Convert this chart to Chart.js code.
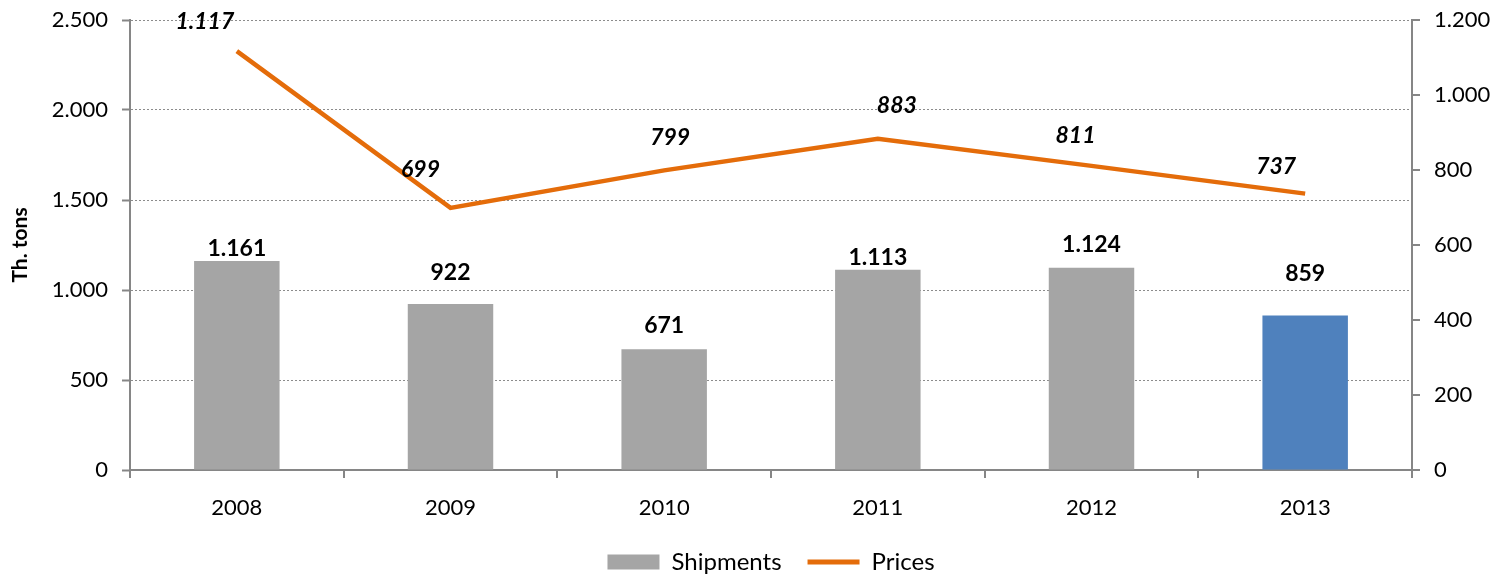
<!DOCTYPE html>
<html lang="en">
<head>
<meta charset="UTF-8">
<title>Shipments and prices</title>
<style>
    html, body { margin: 0; padding: 0; background: #fff; }
    #wrap { width: 1507px; height: 574px; position: relative; }
</style>
</head>
<body>
<div id="wrap"><canvas id="chart"></canvas></div>
<script src="https://cdn.jsdelivr.net/npm/chart.js"></script>
<script>
const years = ['2008', '2009', '2010', '2011', '2012', '2013'];
const shipments = [1161, 922, 671, 1113, 1124, 859];
const prices = [1117, 699, 799, 883, 811, 737];
const barColors = ['#a5a5a5', '#a5a5a5', '#a5a5a5', '#a5a5a5', '#a5a5a5', '#4f81bd'];
const leftTicks = [0, 500, 1000, 1500, 2000, 2500];
const rightTicks = [0, 200, 400, 600, 800, 1000, 1200];
// the labels were nudged by hand in the original, keep the same offsets
const barLabelLift = [12, 31, 24, 12, 23, 42];
const priceLabelShift = [[-32, -30], [-30, -38], [6, -33], [19, -33], [-16, -30], [-29, -27]];

const FONT = 'Lato, "Liberation Sans", sans-serif';

function fmt(v) {
    return String(v).replace(/\B(?=(\d{3})+(?!\d))/g, '.');
}

const valueLabels = {
    id: 'valueLabels',
    afterDatasetsDraw(chart) {
        const ctx = chart.ctx;
        ctx.save();
        ctx.fillStyle = '#000';
        ctx.textAlign = 'center';
        ctx.textBaseline = 'middle';
        ctx.font = 'bold 23px ' + FONT;
        chart.getDatasetMeta(0).data.forEach((bar, i) => {
            ctx.fillText(fmt(shipments[i]), bar.x, bar.y - barLabelLift[i]);
        });
        ctx.font = 'italic bold 23px ' + FONT;
        chart.getDatasetMeta(1).data.forEach((pt, i) => {
            const s = priceLabelShift[i];
            ctx.fillText(fmt(prices[i]), pt.x + s[0], pt.y + s[1]);
        });
        ctx.restore();
    }
};

new Chart(document.getElementById('chart'), {
    data: {
        labels: years,
        datasets: [{
            type: 'bar',
            label: 'Shipments',
            data: shipments,
            backgroundColor: barColors,
            yAxisID: 'y',
            categoryPercentage: 1,
            barPercentage: 0.4,
            order: 2
        }, {
            type: 'line',
            label: 'Prices',
            data: prices,
            borderColor: '#e46c0a',
            backgroundColor: '#e46c0a',
            borderWidth: 4.5,
            pointRadius: 0,
            tension: 0,
            yAxisID: 'y1',
            order: 1
        }]
    },
    options: {
        responsive: true,
        maintainAspectRatio: false,
        animation: false,
        layout: { padding: { top: 20, right: 0, left: 0, bottom: -10 } },
        plugins: {
            tooltip: { enabled: false },
            legend: {
                position: 'bottom',
                fullSize: false,
                labels: {
                    font: { family: FONT, size: 24, lineHeight: 1 },
                    color: '#000',
                    usePointStyle: true,
                    pointStyleWidth: 52,
                    boxHeight: 15,
                    padding: 26,
                    generateLabels(chart) {
                        return [{
                            text: 'Shipments', fillStyle: '#a5a5a5', strokeStyle: '#a5a5a5',
                            lineWidth: 0, pointStyle: 'rect', datasetIndex: 0
                        }, {
                            text: 'Prices', fillStyle: '#e46c0a', strokeStyle: '#e46c0a',
                            lineWidth: 5, pointStyle: 'line', datasetIndex: 1
                        }];
                    }
                }
            }
        },
        scales: {
            x: {
                offset: true,
                grid: {
                    offset: true,
                    drawOnChartArea: false,
                    drawTicks: true,
                    tickLength: 8,
                    color: '#868686',
                    lineWidth: 2
                },
                border: { color: '#868686', width: 2 },
                ticks: { color: '#000', font: { family: FONT, size: 22 }, padding: 17 },
                afterFit(scale) { scale.height = 54; }
            },
            y: {
                position: 'left',
                min: 0,
                max: 2500,
                afterBuildTicks(scale) { scale.ticks = leftTicks.map(v => ({ value: v })); },
                ticks: {
                    color: '#000',
                    font: { family: FONT, size: 22 },
                    padding: 14,
                    callback: v => fmt(v)
                },
                grid: {
                    color: '#8c8c8c',
                    lineWidth: 1,
                    tickColor: '#868686',
                    tickLength: 8,
                    tickWidth: 2,
                    tickBorderDash: [],
                    drawTicks: true
                },
                border: { color: '#868686', width: 2, dash: [2, 2] },
                title: {
                    display: true,
                    text: 'Th. tons',
                    color: '#000',
                    font: { family: FONT, size: 21, weight: 'bold' },
                    padding: { top: 8, bottom: 0 }
                },
                afterFit(scale) {
                    scale.width = 130;
                    scale.paddingTop = 0;
                    scale.paddingBottom = 0;
                }
            },
            y1: {
                position: 'right',
                min: 0,
                max: 1200,
                afterBuildTicks(scale) { scale.ticks = rightTicks.map(v => ({ value: v })); },
                ticks: {
                    color: '#000',
                    font: { family: FONT, size: 22 },
                    padding: 14,
                    callback: v => fmt(v)
                },
                grid: {
                    drawOnChartArea: false,
                    color: '#868686',
                    tickLength: 8,
                    lineWidth: 2
                },
                border: { color: '#868686', width: 2 },
                afterFit(scale) {
                    scale.width = 95;
                    scale.paddingTop = 0;
                    scale.paddingBottom = 0;
                }
            }
        }
    },
    plugins: [valueLabels]
});
</script>
</body>
</html>
